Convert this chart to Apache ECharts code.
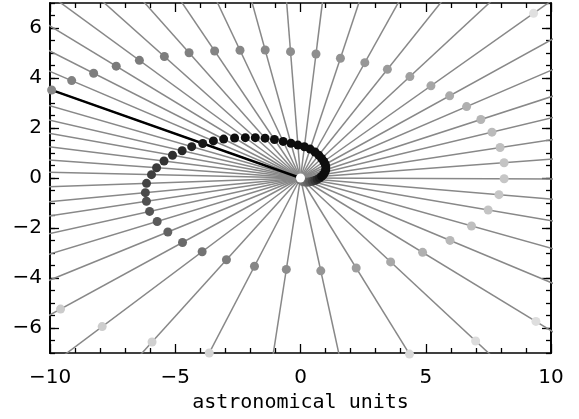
<!DOCTYPE html>
<html><head><meta charset="utf-8">
<script src="https://cdn.jsdelivr.net/npm/echarts@6/dist/echarts.min.js"></script>
<style>html,body{margin:0;padding:0;background:#fff}#c{width:579px;height:419px}</style>
</head><body><div id="c"></div>
<script>
// Directions (degrees) of the radial lines drawn from the origin
const lineAngles = [4.3, 8.7, 13.5, 18.0, 23.3, 28.9, 35.3, 42.9, 51.4, 60.9, 71.6, 82.9, 94.5, 105.4, 115.3, 124.0, 131.6, 138.2, 143.8, 148.7, 153.1, 156.9, 160.5, 163.9, 167.0, 169.9, 172.9, 175.9, 178.7, 182.0, 185.4, 188.6, 192.5, 196.9, 202.2, 208.7, 216.9, 227.9, 242.5, 261.2, 282.3, 301.7, 317.0, 328.6, 337.3, 344.3, 350.3, 355.2, 359.8];
// Highlighted (black) direction
const highlightAngle = 160.5;
// Distance (AU) of the dot on each line, for each winding of the spiral (null = no visible dot)
const pass0R = [null,null,null,null,null,null,null,null,null,null,null,null,null,null,null,null,null,null,null,null,null,null,null,null,null,null,null,null,null,null,null,null,null,null,null,null,null,null,null,0.06,0.11,0.17,0.24,0.32,0.40,0.49,0.58,0.67,0.76];
const pass0Gray = [null,null,null,null,null,null,null,null,null,null,null,null,null,null,null,null,null,null,null,null,null,null,null,null,null,null,null,null,null,null,null,null,null,null,null,null,null,null,null,120,120,120,112,102,90,74,58,42,30];
const pass1R = [0.85,0.93,1.00,1.06,1.10,1.13,1.14,1.15,1.17,1.19,1.22,1.26,1.32,1.44,1.62,1.86,2.13,2.42,2.73,3.08,3.44,3.78,4.14,4.52,4.85,5.19,5.49,5.76,5.95,6.15,6.22,6.22,6.17,5.98,5.72,5.37,4.91,4.41,3.98,3.70,3.80,4.23,4.92,5.71,6.47,7.09,7.60,7.95,8.13];
const pass1Gray = [14,14,14,14,14,14,14,14,14,14,14,14,14,14,14,14,14,14,14,14,16,20,26,34,40,46,51,58,64,68,74,80,85,90,98,106,115,125,134,140,149,158,168,176,184,191,196,198,198];
const pass2R = [8.15,8.06,7.86,7.57,7.22,6.80,6.38,5.96,5.56,5.28,5.05,5.00,5.07,5.31,5.65,6.13,6.70,7.29,7.97,8.61,9.26,9.93,10.54,null,null,null,null,null,null,null,null,null,null,null,null,10.92,9.90,8.84,7.89,null,null,8.28,9.56,11.01,null,null,null,null,null];
const pass2Gray = [196,192,187,181,176,170,166,160,154,150,146,143,141,138,135,132,128,125,123,123,126,130,136,null,null,null,null,null,null,null,null,null,null,null,null,203,205,208,212,null,null,217,220,222,null,null,null,null,null];
const pass3R = [null,null,null,null,null,null,11.40,null,null,null,null,null,null,null,null,null,null,null,null,null,null,null,null,null,null,null,null,null,null,null,null,null,null,null,null,null,null,null,null,null,null,null,null,null,null,null,null,null,null];
const pass3Gray = [null,null,null,null,null,null,224,null,null,null,null,null,null,null,null,null,null,null,null,null,null,null,null,null,null,null,null,null,null,null,null,null,null,null,null,null,null,null,null,null,null,null,null,null,null,null,null,null,null];
const sunPos = [0, 0];
const xTickValues = [-10, -5, 0, 5, 10];
const yTickValues = [-6, -4, -2, 0, 2, 4, 6];

function polar(r, deg) { const a = deg * Math.PI / 180; return [r * Math.cos(a), r * Math.sin(a)]; }
function gray(g) { return 'rgb(' + g + ',' + g + ',' + g + ')'; }
function fmt(v) { return v < 0 ? '\u2212' + (-v) : String(v); }
const FAR = 30;

const series = [];
lineAngles.forEach(function (a) {
  series.push({ type: 'line', data: [[0, 0], polar(FAR, a)], showSymbol: false, symbol: 'none', silent: true,
    lineStyle: { color: '#888888', width: 1.5 }, clip: true, z: 2 });
});
series.push({ type: 'line', data: [[0, 0], polar(FAR, highlightAngle)], showSymbol: false, symbol: 'none', silent: true,
  lineStyle: { color: '#000', width: 2.4 }, clip: true, z: 3 });

const dots = [];
function addPass(rs, gs) {
  rs.forEach(function (r, i) {
    if (r == null) return;
    dots.push({ value: polar(r, lineAngles[i]), itemStyle: { color: gray(gs[i]) } });
  });
}
addPass(pass0R, pass0Gray);
dots.push({ value: sunPos, itemStyle: { color: '#fff' } });
addPass(pass1R, pass1Gray);
addPass(pass2R, pass2Gray);
addPass(pass3R, pass3Gray);
series.push({ type: 'scatter', data: dots, symbolSize: 9, clip: false, silent: true, z: 4,
  itemStyle: { opacity: 1 } });

const axLine = { show: true, onZero: false, lineStyle: { color: '#000', width: 1.7 } };
const tickStyle = { color: '#000', width: 1.3 };
const labelStyle = { color: '#000', fontSize: 20, fontFamily: 'DejaVu Sans', formatter: fmt };

const option = {
  animation: false,
  grid: { left: 50, right: 28, top: 3, bottom: 66, containLabel: false, outerBoundsMode: 'none' },
  xAxis: [
    { type: 'value', position: 'bottom', min: -10, max: 10, interval: 5, axisLine: axLine, splitLine: { show: false },
      axisTick: { inside: true, length: 9, lineStyle: tickStyle },
      minorTick: { show: true, splitNumber: 5, length: 5, lineStyle: tickStyle },
      axisLabel: Object.assign({ margin: 15, customValues: xTickValues }, labelStyle),
      name: 'astronomical units', nameLocation: 'middle', nameGap: 40,
      nameTextStyle: { fontFamily: 'DejaVu Sans Mono', fontSize: 20, color: '#000' } },
    { type: 'value', position: 'top', min: -10, max: 10, interval: 5, axisLine: axLine, splitLine: { show: false },
      axisTick: { inside: true, length: 9, lineStyle: tickStyle },
      minorTick: { show: true, splitNumber: 5, length: 5, lineStyle: tickStyle },
      axisLabel: { show: false } }
  ],
  yAxis: [
    { type: 'value', position: 'left', min: -7, max: 7, interval: 0.5, axisLine: axLine, splitLine: { show: false },
      axisTick: { inside: true, length: 5, lineStyle: tickStyle }, axisLabel: { show: false } },
    { type: 'value', position: 'left', min: -7, max: 7, interval: 1, axisLine: axLine, splitLine: { show: false },
      axisTick: { inside: true, length: 9, lineStyle: tickStyle, customValues: yTickValues },
      axisLabel: Object.assign({ margin: 8, customValues: yTickValues }, labelStyle) },
    { type: 'value', position: 'right', min: -7, max: 7, interval: 0.5, axisLine: axLine, splitLine: { show: false },
      axisTick: { inside: true, length: 5, lineStyle: tickStyle }, axisLabel: { show: false } },
    { type: 'value', position: 'right', min: -7, max: 7, interval: 1, axisLine: axLine, splitLine: { show: false },
      axisTick: { inside: true, length: 9, lineStyle: tickStyle, customValues: yTickValues }, axisLabel: { show: false } }
  ],
  series: series
};
const chart = echarts.init(document.getElementById('c'), null, { renderer: 'canvas' });
chart.setOption(option);
</script>
</body></html>
